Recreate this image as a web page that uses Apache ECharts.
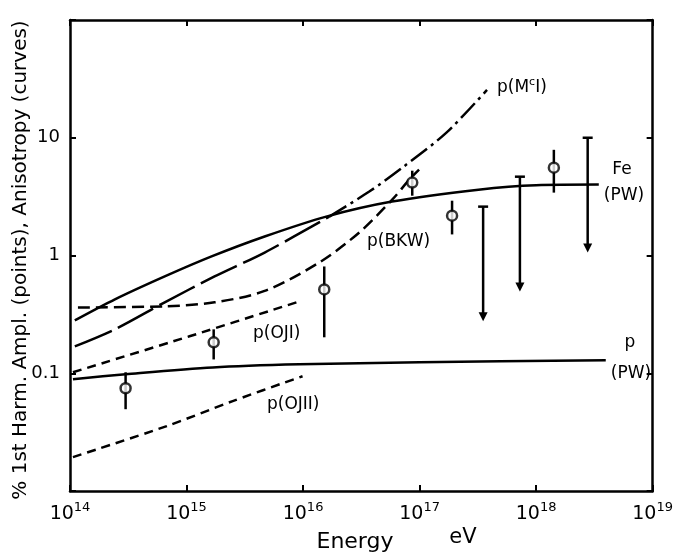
<!DOCTYPE html>
<html>
<head>
<meta charset="utf-8">
<script src="https://cdn.jsdelivr.net/npm/echarts@6/dist/echarts.min.js"></script>
<style>
  html, body { margin: 0; padding: 0; background: #fff; }
  #chart { width: 676px; height: 555px; }
</style>
</head>
<body>
<div id="chart"></div>
<script>
// curves: [energy eV, anisotropy %]
var feCurve = [[1.1e14, 0.281], [2.43e14, 0.424], [6.5e14, 0.664], [1.64e15, 0.982], [4.68e15, 1.45],
  [1.58e16, 2.14], [5.8e16, 2.87], [3.2e17, 3.62], [1e18, 3.95], [3.45e18, 4.0]];
var pwCurve = [[1.06e14, 0.089], [3.0e14, 0.098], [1.68e15, 0.112], [9.3e15, 0.119], [1e17, 0.124], [3.96e18, 0.129]];
var mciLow = [[1.1e14, 0.169], [2.43e14, 0.236], [6.5e14, 0.40], [1.74e15, 0.664], [4.68e15, 1.06], [1.68e16, 2.14]];
var mciHigh = [[1.68e16, 2.14], [3.7e16, 3.49], [7.1e16, 5.57], [1.69e17, 11.0], [3.79e17, 25.5]];
var bkwCurve = [[1.17e14, 0.362], [6.5e14, 0.37], [1.74e15, 0.40], [4.68e15, 0.50],
  [1.38e16, 0.873], [3.04e16, 1.57], [5.82e16, 2.98], [8.15e16, 4.4], [9.9e16, 5.36]];
var oj1Curve = [[1.06e14, 0.102], [1.06e15, 0.206], [8.77e15, 0.40]];
var oj2Curve = [[1.06e14, 0.0194], [6.77e14, 0.0356], [2.49e15, 0.058], [9.9e15, 0.0944]];

// measured points: [energy, value, high, low]
var points = [[3.0e14, 0.0746, 0.102, 0.0495], [1.71e15, 0.183, 0.236, 0.131], [1.52e16, 0.515, 0.807, 0.202],
  [8.65e16, 4.16, 5.25, 3.22], [1.9e17, 2.18, 2.92, 1.51], [1.42e18, 5.57, 7.9, 3.42]];
// upper limits: [energy, top, arrow tip]
var limits = [[3.51e17, 2.6, 0.276], [7.26e17, 4.67, 0.495], [2.77e18, 10, 1.06]];

var xTicks = [14, 15, 16, 17, 18, 19];
var yTickLabels = {'10': '10', '1': '1', '0.1': '0.1'};

var chart = echarts.init(document.getElementById('chart'));
var font = 'DejaVu Sans';

function lineSeries(data, dash) {
  return {
    type: 'line', data: data, smooth: 0.3, showSymbol: false, symbol: 'none',
    xAxisIndex: 0, yAxisIndex: 0,
    lineStyle: { color: '#000', width: 2.5, type: dash }
  };
}

var axisBase = {
  type: 'log', logBase: 10,
  axisLine: { show: true, lineStyle: { color: '#000', width: 2.5 } },
  axisTick: { show: true, inside: true, length: 6, lineStyle: { color: '#000', width: 2 } },
  splitLine: { show: false },
  minorTick: { show: false }
};

var option = {
  animation: false,
  backgroundColor: '#fff',
  grid: { left: 70, right: 22, top: 20, bottom: 64 },
  xAxis: [
    Object.assign({}, axisBase, {
      min: 1e14, max: 1e19, position: 'bottom',
      axisLabel: {
        margin: 10, color: '#000',
        formatter: function (v) {
          var e = Math.round(Math.log10(v));
          return xTicks.indexOf(e) >= 0 ? '{b|10}{s|' + e + '}' : '';
        },
        rich: {
          b: { fontSize: 19, fontFamily: font, lineHeight: 26, color: '#000' },
          s: { fontSize: 13, fontFamily: font, lineHeight: 12, verticalAlign: 'top', color: '#000' }
        }
      }
    }),
    Object.assign({}, axisBase, { min: 1e14, max: 1e19, position: 'top', axisLabel: { show: false } })
  ],
  yAxis: [
    Object.assign({}, axisBase, {
      min: 0.01, max: 100, position: 'left',
      axisLabel: {
        margin: 10, color: '#000', fontSize: 18, fontFamily: font,
        formatter: function (v) {
          var key = String(+v.toPrecision(3));
          return yTickLabels[key] || '';
        }
      }
    }),
    Object.assign({}, axisBase, { min: 0.01, max: 100, position: 'right', axisLabel: { show: false } })
  ],
  series: [
    lineSeries(feCurve, 'solid'),
    lineSeries(pwCurve, 'solid'),
    lineSeries(mciLow, [40, 7]),
    lineSeries(mciHigh, [20, 5, 3, 5]),
    lineSeries(bkwCurve, [12, 6]),
    lineSeries(oj1Curve, [9, 6]),
    lineSeries(oj2Curve, [9, 6]),
    {
      // error bars of measured points
      type: 'custom',
      data: points.map(function (p) { return [p[0], p[2], p[3]]; }),
      renderItem: function (params, api) {
        var a = api.coord([api.value(0), api.value(1)]);
        var b = api.coord([api.value(0), api.value(2)]);
        return { type: 'line', shape: { x1: a[0], y1: a[1], x2: b[0], y2: b[1] },
          style: { stroke: '#000', lineWidth: 2.5 } };
      },
      z: 3
    },
    {
      // upper limits with cap and arrow
      type: 'custom',
      data: limits,
      renderItem: function (params, api) {
        var a = api.coord([api.value(0), api.value(1)]);
        var b = api.coord([api.value(0), api.value(2)]);
        return {
          type: 'group',
          children: [
            { type: 'line', shape: { x1: a[0], y1: a[1], x2: b[0], y2: b[1] - 6 }, style: { stroke: '#000', lineWidth: 2.5 } },
            { type: 'line', shape: { x1: a[0] - 5, y1: a[1], x2: a[0] + 5, y2: a[1] }, style: { stroke: '#000', lineWidth: 2.5 } },
            { type: 'polygon', shape: { points: [[b[0] - 4.5, b[1] - 9], [b[0] + 4.5, b[1] - 9], [b[0], b[1]]] }, style: { fill: '#000' } }
          ]
        };
      },
      z: 3
    },
    {
      type: 'scatter',
      data: points.map(function (p) { return [p[0], p[1]]; }),
      symbol: 'circle', symbolSize: 10,
      itemStyle: { color: '#fff', borderColor: '#000', borderWidth: 2.5 },
      z: 5
    }
  ],
  graphic: [
    { type: 'text', x: 21, y: 260, rotation: Math.PI / 2,
      style: { text: '% 1st Harm. Ampl. (points), Anisotropy (curves)', font: '20px ' + font, fill: '#000', align: 'center', verticalAlign: 'middle' } },
    { type: 'text', x: 355, y: 542, style: { text: 'Energy', font: '22px ' + font, fill: '#000', align: 'center', verticalAlign: 'middle' } },
    { type: 'text', x: 463, y: 538, style: { text: 'eV', font: '21px ' + font, fill: '#000', align: 'center', verticalAlign: 'middle' } },
    { type: 'text', x: 497, y: 88,
      style: { text: '{a|p(M}{s|c}{a|I)}', fill: '#000', verticalAlign: 'middle',
        rich: { a: { fontSize: 17, fontFamily: font, lineHeight: 22 }, s: { fontSize: 11, fontFamily: font, lineHeight: 14, verticalAlign: 'top' } } } },
    { type: 'text', x: 622, y: 170, style: { text: 'Fe', font: '17px ' + font, fill: '#000', align: 'center', verticalAlign: 'middle' } },
    { type: 'text', x: 624, y: 196, style: { text: '(PW)', font: '17px ' + font, fill: '#000', align: 'center', verticalAlign: 'middle' } },
    { type: 'text', x: 367, y: 242, style: { text: 'p(BKW)', font: '17px ' + font, fill: '#000', verticalAlign: 'middle' } },
    { type: 'text', x: 253, y: 334, style: { text: 'p(OJI)', font: '17px ' + font, fill: '#000', verticalAlign: 'middle' } },
    { type: 'text', x: 267, y: 405, style: { text: 'p(OJII)', font: '17px ' + font, fill: '#000', verticalAlign: 'middle' } },
    { type: 'text', x: 630, y: 343, style: { text: 'p', font: '17px ' + font, fill: '#000', align: 'center', verticalAlign: 'middle' } },
    { type: 'text', x: 631, y: 374, style: { text: '(PW)', font: '17px ' + font, fill: '#000', align: 'center', verticalAlign: 'middle' } }
  ]
};

chart.setOption(option);
</script>
</body>
</html>
